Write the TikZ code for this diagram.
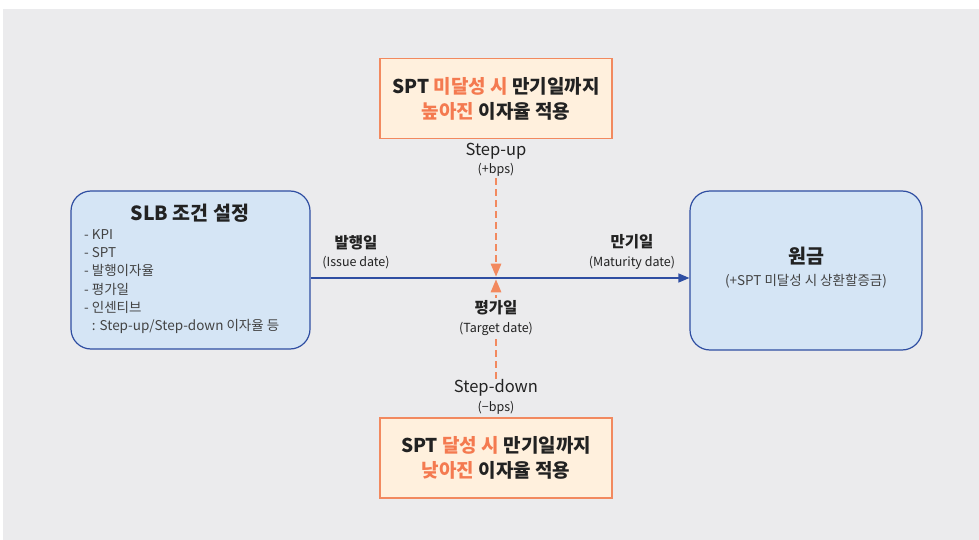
\documentclass[tikz,border=0pt]{standalone}
\usepackage{fontspec}
\setmainfont{Noto Sans CJK KR}
\usepackage{tikz}
\usetikzlibrary{arrows}
\definecolor{bggray}{HTML}{EBEBED}
\definecolor{boxblue}{HTML}{D5E5F5}
\definecolor{lineblue}{HTML}{2F4EA2}
\definecolor{boxorange}{HTML}{FFF0DD}
\definecolor{lineorange}{HTML}{F2895F}
\definecolor{textorange}{HTML}{F47A50}
\definecolor{textdark}{HTML}{222222}
\tikzset{
every node/.style={text=textdark, inner sep=1pt},
blue box/.style={draw=lineblue, fill=boxblue, line width=1.2pt, rounded corners=20pt, minimum width=239pt, minimum height=158pt},
orange box/.style={draw=lineorange, fill=boxorange, line width=1.2pt, minimum width=232pt, minimum height=80pt, align=center, font=\bfseries\fontsize{19}{25}\selectfont},
date label/.style={align=center, font=\fontsize{12.5}{18.5}\selectfont},
small text/.style={font=\fontsize{13.5}{18.2}\selectfont, text=textdark!85}
}
\newcommand{\hl}[1]{\textcolor{textorange}{#1}}
\newcommand{\datehead}[1]{{\bfseries\fontsize{15.5}{17}\selectfont #1}}
\newcommand{\stephead}[1]{{\fontsize{16.5}{18}\selectfont #1}}

\begin{document}
\begin{tikzpicture}[x=1pt, y=-1pt]
\useasboundingbox (0,0) rectangle (979,540);
\fill [bggray] (3,9) rectangle (979,540);

\node [blue box] (SLB) at (190.5,270) {};
\node [blue box, minimum width=232pt, minimum height=159pt] (PRN) at (806,270.5) {};
\node [orange box] (UP) at (496,98.5) {SPT \hl{미달성 시} 만기일까지\\\hl{높아진} 이자율 적용};
\node [orange box] (DOWN) at (496,458) {SPT \hl{달성 시} 만기일까지\\\hl{낮아진} 이자율 적용};

\node [font=\bfseries\fontsize{19.5}{21}\selectfont] (SLBT) at (190,213) {SLB 조건 설정};
\node [small text, align=left, anchor=west] (SLBL) at (83,281.5) {- KPI\\- SPT\\- 발행이자율\\- 평가일\\- 인센티브\\\phantom{- }: Step-up/Step-down 이자율 등};
\node [font=\bfseries\fontsize{19.5}{21}\selectfont] (PRNT) at (806,256) {원금};
\node [small text] (PRNL) at (806,281) {(+SPT 미달성 시 상환할증금)};

\node [date label] (ISSUE) at (356,252) {\datehead{발행일}\\(Issue date)};
\node [date label] (MAT) at (632,252) {\datehead{만기일}\\(Maturity date)};
\node [date label] (SUP) at (496,160) {\stephead{Step-up}\\(+bps)};
\node [date label] (SDN) at (496,397) {\stephead{Step-down}\\(−bps)};
\coordinate (T1) at (496,276.5);
\coordinate (T2) at (496,279.5);

\draw[-triangle 45, draw=lineblue, fill=lineblue, line width=1.6pt] (SLB.east |- 0,278) -- (PRN.west |- 0,278);
\draw[-triangle 45, draw=lineorange, line width=2pt, dash pattern=on 7pt off 4pt] (SUP.south) -- (T1);
\draw[-triangle 45, draw=lineorange, line width=2pt, dash pattern=on 7pt off 4pt] (SDN.north) -- (T2);

\node [date label, fill=bggray, inner sep=3pt] (TGT) at (496,318) {\datehead{평가일}\\(Target date)};
\end{tikzpicture}
\end{document}
